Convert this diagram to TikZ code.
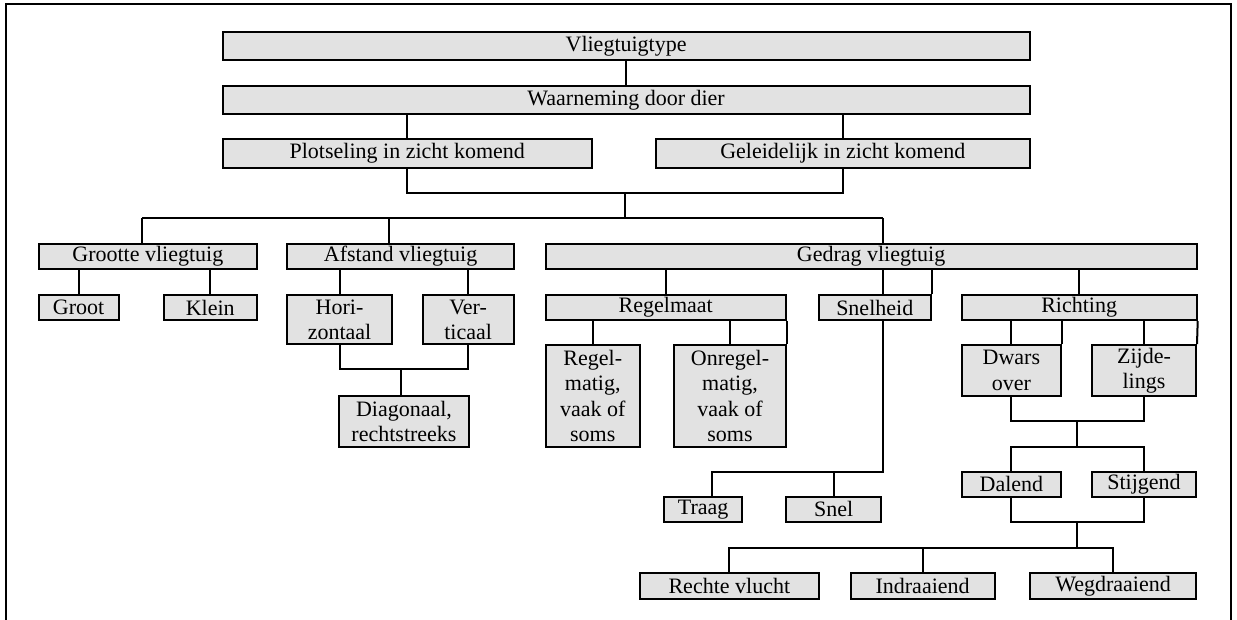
\documentclass[tikz,border=0pt]{standalone}
\usepackage{fontspec}
\setmainfont{Liberation Serif}
\usepackage{xcolor}
\usepackage{tikz}
\definecolor{boxgrey}{RGB}{226,226,226}
\newcommand{\boxfont}{\fontsize{22}{25.4}\selectfont}

\begin{document}
\begin{tikzpicture}[x=1pt,y=1pt,yscale=-1,xscale=1,line width=2pt,
    box/.style={draw, fill=boxgrey, inner sep=0pt, align=center, font=\boxfont}]

        \useasboundingbox (0,0) rectangle (1237,620);
        \draw    (5.9,620) -- (5.9,4) -- (1231.4,4) -- (1231.4,620) ;

        \node [box, minimum width=807.2, minimum height=28.3] (vt) at (626.1,45.85) {Vliegtuigtype};
        \node [box, minimum width=807.2, minimum height=28] (wn) at (626.1,100) {Waarneming door dier};
        \node [box, minimum width=369.5, minimum height=28.4] (pl) at (407.25,153.5) {Plotseling in zicht komend};
        \node [box, minimum width=373.9, minimum height=28.4] (gl) at (842.75,153.5) {Geleidelijk in zicht komend};

        \node [box, minimum width=218.3, minimum height=24.7] (gr) at (147.85,256.35) {Grootte vliegtuig};
        \node [box, minimum width=226.4, minimum height=24.7] (af) at (400.6,256.35) {Afstand vliegtuig};
        \node [box, minimum width=651.2, minimum height=24.7] (gd) at (871.1,256.35) {Gedrag vliegtuig};

        \node [box, minimum width=79.9, minimum height=25] (groot) at (78.65,307.5) {Groot};
        \node [box, minimum width=93.4, minimum height=25] (klein) at (210.3,307.5) {Klein};
        \node [box, minimum width=104.3, minimum height=49.3] (hori) at (339.55,319.65) {Hori-\\zontaal};
        \node [box, minimum width=91.3, minimum height=49.3] (verti) at (468.15,319.65) {Ver-\\ticaal};
        \node [box, minimum width=130, minimum height=50.7] (diag) at (404,421.35) {Diagonaal,\\rechtstreeks};

        \node [box, minimum width=240.5, minimum height=25] (rm) at (665.75,307.5) {Regelmaat};
        \node [box, minimum width=112.1, minimum height=25] (sh) at (874.75,307.5) {Snelheid};
        \node [box, minimum width=235, minimum height=25] (ri) at (1079.2,307.5) {Richting};

        \node [box, minimum width=94.5, minimum height=101.7] (rmg) at (592.75,395.85) {Regel-\\matig,\\vaak of\\soms};
        \node [box, minimum width=112, minimum height=101.7] (orm) at (730,395.85) {Onregel-\\matig,\\vaak of\\soms};
        \node [box, minimum width=99.4, minimum height=51] (dw) at (1011.4,370.5) {Dwars\\over};
        \node [box, minimum width=104, minimum height=51] (zl) at (1144,370.5) {Zijde-\\lings};

        \node [box, minimum width=78.2, minimum height=25] (traag) at (703.1,509.2) {Traag};
        \node [box, minimum width=94.8, minimum height=25] (snel) at (833.6,509.2) {Snel};
        \node [box, minimum width=99.4, minimum height=25] (da) at (1011.4,484.2) {Dalend};
        \node [box, minimum width=104, minimum height=25] (st) at (1144,484.2) {Stijgend};

        \node [box, minimum width=178.7, minimum height=26.3] (rv) at (729.35,585.85) {Rechte vlucht};
        \node [box, minimum width=144.2, minimum height=26.3] (ind) at (922.6,585.85) {Indraaiend};
        \node [box, minimum width=166, minimum height=26.3] (wg) at (1113,585.85) {Wegdraaiend};

        \coordinate (j1) at (625,192.7);
        \coordinate (bL) at (142,218.3);
        \coordinate (bA) at (388.5,218.3);
        \coordinate (bM) at (625,218.3);
        \coordinate (bR) at (882.7,218.3);
        \coordinate (j4) at (400.8,369.3);
        \coordinate (sv) at (882.7,471.7);
        \coordinate (tj) at (712,471.7);
        \coordinate (j5) at (1077.4,420.7);
        \coordinate (j6) at (1077.4,446.7);
        \coordinate (j7) at (1077.4,521.7);
        \coordinate (j8) at (1077.4,547.7);

        \draw    (vt.south) -- (wn.north) ;
        \draw    (pl.north |- wn.south) -- (pl.north) ;
        \draw    (gl.north |- wn.south) -- (gl.north) ;
        \draw    (pl.south) |- (j1) -| (gl.south) ;
        \draw    (j1) -- (bM) ;
        \draw    (bL) -- (bR) ;
        \draw    (bL) -- (bL |- gr.north) ;
        \draw    (bA) -- (bA |- af.north) ;
        \draw    (bR) -- (bR |- gd.north) ;

        \draw    (gr.south -| groot.north) -- (groot.north) ;
        \draw    (gr.south -| klein.north) -- (klein.north) ;
        \draw    (af.south -| hori.north) -- (hori.north) ;
        \draw    (af.south -| verti.north) -- (verti.north) ;
        \draw    (hori.south) |- (j4) -| (verti.south) ;
        \draw    (j4) -- (j4 |- diag.north) ;

        \draw    (gd.south -| rm.north) -- (rm.north) ;
        \draw    (gd.south -| sv) -- (sh.north -| sv) ;
        \draw    (gd.south -| sh.east) -- (sh.north east) ;
        \draw    (gd.south -| ri.north) -- (ri.north) ;

        \draw    (rm.south -| rmg.north) -- (rmg.north) ;
        \draw    (rm.south -| orm.north) -- (orm.north) ;
        \draw    (rm.south east) -- (orm.north east) ;

        \draw    (sh.south -| sv) -- (sv) -- (tj) -- (tj |- traag.north) ;
        \draw    (snel.north) -- (snel.north |- sv) ;

        \draw    (ri.south -| dw.north) -- (dw.north) ;
        \draw    (ri.south -| dw.east) -- (dw.north east) ;
        \draw    (ri.south -| zl.north) -- (zl.north) ;
        \draw    (ri.south east) -- (zl.north east) ;
        \draw    (dw.south) |- (j5) -| (zl.south) ;
        \draw    (j5) -- (j6) ;
        \draw    (da.north) |- (j6) ;
        \draw    (st.north) |- (j6) ;

        \draw    (da.south) |- (j7) -| (st.south) ;
        \draw    (j7) -- (j8) ;
        \draw    (rv.north) |- (j8) ;
        \draw    (ind.north) |- (j8) ;
        \draw    (wg.north) |- (j8) ;
    \end{tikzpicture}
\end{document}
